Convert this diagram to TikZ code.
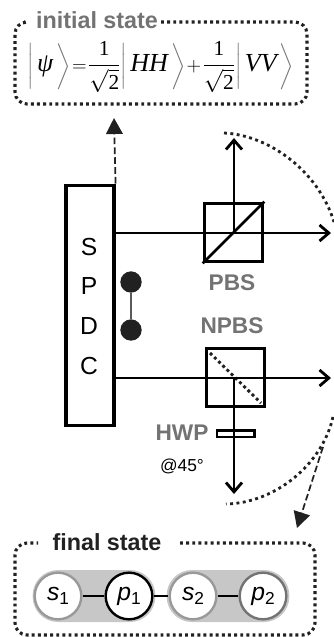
\documentclass[tikz,border=0pt]{standalone}
\usepackage{amsmath}
\usepackage{fontspec}
\setmainfont{Liberation Sans}
\newfontfamily\tmfont{Liberation Serif}
\usetikzlibrary{arrows.meta}
\definecolor{lbl}{gray}{0.45}
\definecolor{pill}{gray}{0.78}
\definecolor{dark}{gray}{0.13}
\newcommand{\kb}[1]{{\color{black!55}\left|\rule[-11pt]{0pt}{23pt}\mkern3mu{\color{black}\mbox{\fontsize{19.5}{22}\tmfont\itshape #1}}\mkern3mu\right\rangle}}
\newcommand{\hf}{\mbox{\fontsize{16}{18}\selectfont$\dfrac{\mbox{\tmfont 1}}{\sqrt{\mbox{\tmfont 2}}}$}}
\newcommand{\qb}[2]{\textit{#1}\raisebox{-0.35ex}{\fontsize{13}{13}\selectfont #2}}
\tikzset{
  x=0.75pt,y=-0.75pt,
  beam/.style={line width=2.1pt,draw=black,-{Straight Barb[length=7pt,width=12pt,line width=2.1pt]}},
  boxline/.style={draw=black,line width=2.3pt,inner sep=0pt},
  dotbox/.style={line width=2.3pt,draw=dark,dash pattern=on 2.2pt off 2.4pt,rounded corners=9pt},
  dotarc/.style={line width=2.1pt,draw=dark,dash pattern=on 2.2pt off 2.6pt},
  dashedarrow/.style={line width=1.3pt,draw=dark,dash pattern=on 5pt off 2.4pt,-{Triangle[length=12pt,width=12.5pt,fill=dark]}},
  title/.style={font=\fontsize{17.5}{20}\selectfont\bfseries,inner sep=0pt,anchor=center},
  grlabel/.style={font=\fontsize{17}{19}\selectfont\bfseries,text=lbl,inner sep=0pt},
  letter/.style={font=\fontsize{18.5}{20}\selectfont,inner sep=0pt},
  qubit/.style={circle,fill=white,minimum size=35pt,inner sep=0pt,line width=1.8pt,font=\fontsize{18.5}{20}\selectfont},
  pillbar/.style={rounded corners=19pt,fill=pill,draw=none,minimum height=39pt,inner sep=0pt},
  link/.style={line width=1.5pt,draw=black},
  dot/.style={circle,fill=dark,minimum size=16pt,inner sep=0pt},
}
\begin{document}
\begin{tikzpicture}
\useasboundingbox (0,0) rectangle (334,637);
% initial state
\draw[dotbox] (161,22) -- (307,22) -- (307,104) -- (15,104) -- (15,22) -- (24,22);
\node[title,text=lbl] (inittitle) at (97,20) {initial state};
\node[inner sep=0pt] (formula) at (161,67) {\fontsize{14.5}{18}\selectfont$\thinmuskip=1mu\medmuskip=1mu\thickmuskip=1mu\kb{ψ}=\hf\kb{HH}+\hf\kb{VV}$};
% SPDC
\node[boxline,minimum width=36pt,minimum height=180.5pt] (spdc) at (90,305.5) {};
\node[letter] (ls) at (89,247) {S};
\node[letter] (lp) at (89,286) {P};
\node[letter] (ld) at (89,326) {D};
\node[letter] (lc) at (89,366) {C};
% entangled pair
\node[dot] (d1) at (131,282) {};
\node[dot] (d2) at (131,330) {};
\draw[line width=1.9pt,draw=black!65] (d1) -- (d2);
% PBS
\node[boxline,minimum size=44pt] (pbs) at (233.5,232.5) {};
\draw[line width=2.1pt] (pbs.south west) -- (pbs.north east);
\coordinate (up1) at (114,233);
\coordinate (upend) at (331,233);
\coordinate (upv) at (234,233);
\coordinate (uptop) at (234,138);
\draw[beam] (up1) -- (upend);
\draw[beam] (upv) -- (uptop);
\node[grlabel] (pbslabel) at (232,283) {PBS};
% NPBS
\node[grlabel] (npbslabel) at (232,326) {NPBS};
\node[boxline,minimum size=44pt] (npbs) at (235.5,377.5) {};
\coordinate (nd1) at (210,353);
\coordinate (nd2) at (261,403);
\draw[line width=2.2pt,draw=dark,dash pattern=on 2.2pt off 2.2pt] (nd1) -- (nd2);
\coordinate (lo1) at (114,378);
\coordinate (loend) at (331,378);
\coordinate (lov) at (234,378);
\coordinate (lobot) at (234,494);
\draw[beam] (lo1) -- (loend);
\draw[beam] (lov) -- (lobot);
% HWP
\node[draw=black,fill=white,line width=2pt,minimum width=28pt,minimum height=5pt,inner sep=0pt] (hwp) at (235.5,433.5) {};
\draw[line width=2.1pt] (hwp.north -| lov) -- (hwp.south -| lov);
\node[grlabel] (hwplabel) at (182,433) {HWP};
\node[inner sep=0pt,font=\fontsize{13}{15}\selectfont] (angle) at (182,466) {@45°};
% dotted arcs
\coordinate (a1) at (224,133);
\coordinate (a2) at (334,222);
\coordinate (b1) at (333,417);
\coordinate (b2) at (226,504);
\draw[dotarc] (a1) .. controls (268,135) and (318,170) .. (a2);
\draw[dotarc] (b1) .. controls (322,465) and (275,503) .. (b2);
% dashed arrows
\coordinate (upt) at (114,118);
\draw[dashedarrow] (spdc.north east) -- (upt);
\coordinate (dn0) at (323,447);
\coordinate (dn1) at (297,528);
\draw[dashedarrow] (dn0) -- (dn1);
% final state
\draw[dotbox] (180,543) -- (315,543) -- (315,635) -- (15,635) -- (15,543) -- (38,543);
\node[title,text=dark] (fintitle) at (107,542) {final state};
\node[pillbar,minimum width=92pt] (pill1) at (94,596) {};
\node[pillbar,minimum width=92pt] (pill2) at (228,596) {};
\node[qubit,draw=black!40] (s1) at (58,596) {\qb{s}{1}};
\node[qubit,draw=black] (p1) at (129,596) {\qb{p}{1}};
\node[qubit,draw=black!40] (s2) at (193,596) {\qb{s}{2}};
\node[qubit,draw=black!55] (p2) at (263,596) {\qb{p}{2}};
\draw[link] (s1) -- (p1);
\draw[link] (p1) -- (s2);
\draw[link] (s2) -- (p2);
\end{tikzpicture}
\end{document}
